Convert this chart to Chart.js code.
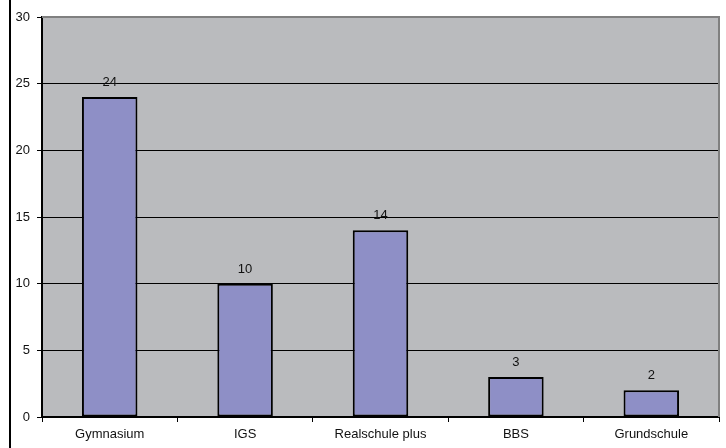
<!DOCTYPE html>
<html>
<head>
<meta charset="utf-8">
<script src="https://cdn.jsdelivr.net/npm/chart.js@4/dist/chart.umd.min.js"></script>
<style>
  html, body { margin: 0; padding: 0; background: #fff; }
  #wrap { width: 726px; height: 448px; position: relative; }
</style>
</head>
<body>
<div id="wrap"><canvas id="chart"></canvas></div>
<script>
const schools = ['Gymnasium', 'IGS', 'Realschule plus', 'BBS', 'Grundschule'];
const counts = [24, 10, 14, 3, 2];
const yTickValues = [0, 5, 10, 15, 20, 25, 30];

const FONT = 'Liberation Sans, Arial, sans-serif';

// grey plot background, grey top/right frame and the black line on the left edge
const framePlugin = {
    id: 'frame',
    beforeDraw: (chart) => {
        const {ctx, chartArea: a} = chart;
        ctx.save();
        ctx.fillStyle = '#BABBBE';
        ctx.fillRect(a.left, a.top, a.right - a.left, a.bottom - a.top);
        ctx.restore();
    },
    afterDraw: (chart) => {
        const {ctx, chartArea: a} = chart;
        ctx.save();
        ctx.strokeStyle = '#808080';
        ctx.lineWidth = 2;
        ctx.beginPath();
        ctx.moveTo(a.left, a.top);
        ctx.lineTo(a.right, a.top);
        ctx.lineTo(a.right, a.bottom);
        ctx.stroke();
        ctx.strokeStyle = '#000';
        ctx.lineWidth = 2;
        ctx.beginPath();
        ctx.moveTo(10, 0);
        ctx.lineTo(10, chart.height);
        ctx.stroke();
        ctx.restore();
    }
};

const valueLabels = {
    id: 'valueLabels',
    afterDatasetsDraw: (chart) => {
        const {ctx} = chart;
        const meta = chart.getDatasetMeta(0);
        ctx.save();
        ctx.font = '13px ' + FONT;
        ctx.fillStyle = '#111';
        ctx.textAlign = 'center';
        ctx.textBaseline = 'bottom';
        meta.data.forEach((bar, i) => {
            ctx.fillText(counts[i], bar.x, bar.y - 8);
        });
        ctx.restore();
    }
};

new Chart(document.getElementById('chart'), {
    type: 'bar',
    data: {
        labels: schools,
        datasets: [{
            data: counts,
            backgroundColor: '#8E8FC6',
            borderColor: '#000',
            borderWidth: 2,
            borderSkipped: false,
            barPercentage: 0.41,
            categoryPercentage: 1
        }]
    },
    options: {
        responsive: true,
        maintainAspectRatio: false,
        animation: false,
        layout: {padding: {left: 10, top: 17, right: 7, bottom: 0}},
        plugins: {
            legend: {display: false},
            tooltip: {enabled: false}
        },
        scales: {
            y: {
                min: 0,
                max: 30,
                afterBuildTicks: (scale) => {
                    scale.ticks = yTickValues.map(v => ({value: v}));
                },
                afterFit: (scale) => { scale.width = 32; },
                ticks: {
                    color: '#111',
                    padding: 7,
                    font: {family: FONT, size: 13}
                },
                grid: {
                    color: (c) => c.tick && c.tick.value === 30 ? 'rgba(0,0,0,0)' : '#000',
                    lineWidth: 1,
                    tickLength: 5,
                    tickColor: '#000'
                },
                border: {display: true, color: '#000', width: 2}
            },
            x: {
                afterFit: (scale) => { scale.height = 31; },
                ticks: {
                    color: '#111',
                    padding: 5,
                    maxRotation: 0,
                    font: {family: FONT, size: 13}
                },
                grid: {
                    offset: true,
                    drawOnChartArea: false,
                    tickLength: 5,
                    tickColor: '#000'
                },
                border: {display: true, color: '#000', width: 2}
            }
        }
    },
    plugins: [framePlugin, valueLabels]
});
</script>
</body>
</html>
